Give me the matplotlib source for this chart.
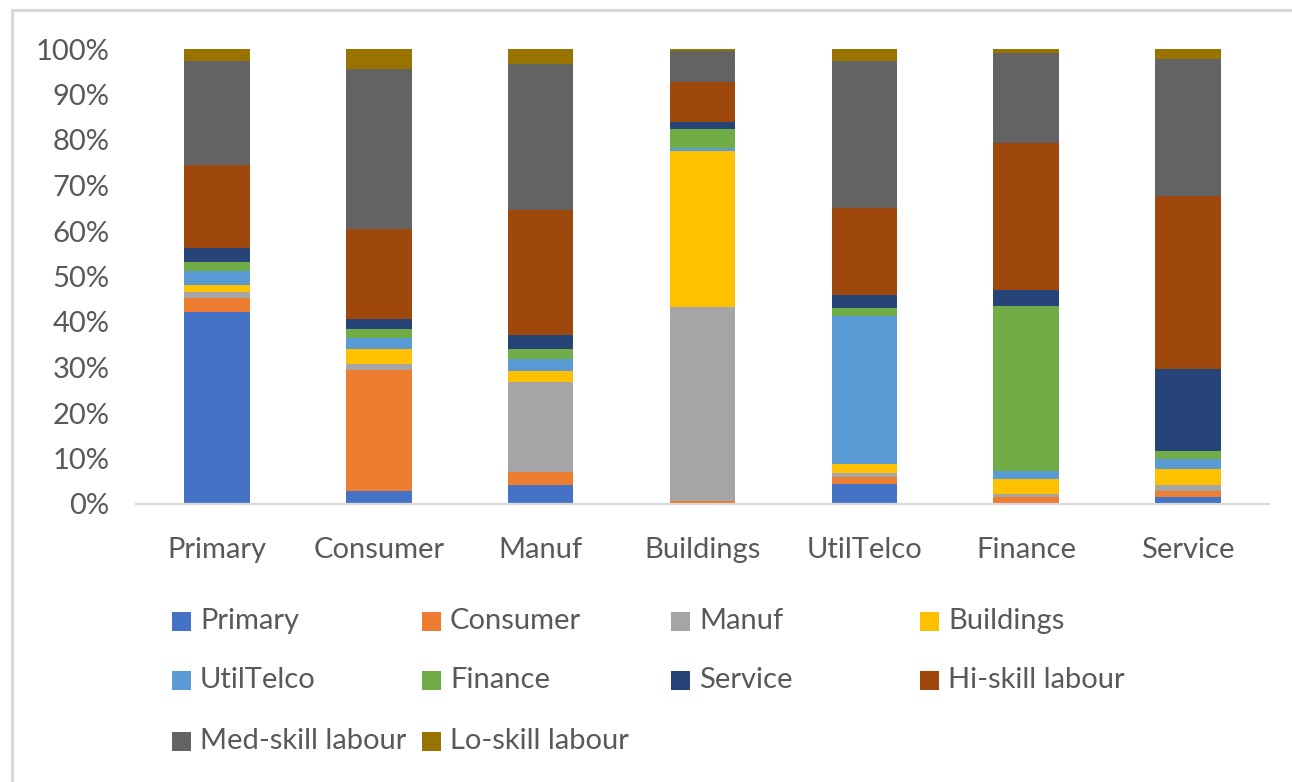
import numpy as np
import matplotlib
matplotlib.use('Agg')  # no display needed
matplotlib.rcParams['font.family'] = ['Lato', 'DejaVu Sans']
import matplotlib.pyplot as plt
from matplotlib.patches import Rectangle

# sectors along the x axis
sectors = ['Primary', 'Consumer', 'Manuf', 'Buildings', 'UtilTelco', 'Finance', 'Service']

# cost components (%) for each sector, bottom to top
primary = [42.2, 2.9, 4.1, 0.1, 4.5, 0.3, 1.5]
consumer = [3.0, 26.6, 3.0, 0.6, 1.5, 1.2, 1.4]
manuf = [1.5, 1.3, 19.8, 42.6, 0.8, 0.7, 1.2]
buildings = [1.5, 3.3, 2.3, 34.3, 1.9, 3.4, 3.7]
utiltelco = [3.0, 2.3, 2.6, 0.7, 32.7, 1.6, 2.0]
finance = [1.9, 2.0, 2.3, 4.1, 1.6, 36.4, 1.9]
service = [3.1, 2.3, 3.1, 1.6, 3.0, 3.5, 17.9]
hi_skill = [18.3, 19.7, 27.4, 8.7, 19.0, 32.3, 38.1]
med_skill = [22.8, 35.1, 32.0, 6.9, 32.3, 19.8, 30.0]
lo_skill = [2.7, 4.5, 3.4, 0.4, 2.7, 0.8, 2.3]

series_names = ['Primary', 'Consumer', 'Manuf', 'Buildings', 'UtilTelco', 'Finance',
                'Service', 'Hi-skill labour', 'Med-skill labour', 'Lo-skill labour']
series_values = [primary, consumer, manuf, buildings, utiltelco, finance,
                 service, hi_skill, med_skill, lo_skill]
colors = ['#4472C4', '#ED7D31', '#A5A5A5', '#FFC000', '#5B9BD5', '#70AD47',
          '#264478', '#9E480E', '#636363', '#997300']

TEXT = '#595959'
LINE = '#D9D9D9'
W, H = 1292, 782
FS = 21


def main():
    fig = plt.figure(figsize=(W / 100, H / 100), dpi=100)
    ax = fig.add_axes([136 / W, 1 - 504 / H, (1269 - 136) / W, (504 - 49) / H])

    data = np.array(series_values, dtype=float)
    shares = data / data.sum(axis=0)  # 100% stacked
    x = np.arange(len(sectors))
    bottom = np.zeros(len(sectors))
    for share, color, name in zip(shares, colors, series_names):
        ax.bar(x, share, 0.405, bottom=bottom, color=color, label=name, linewidth=0)
        bottom += share

    ax.set_xlim(-0.5, len(sectors) - 0.5)
    ax.set_ylim(0, 1)
    ax.set_yticks(np.linspace(0, 1, 11))
    ax.set_yticklabels(['%d%%' % v for v in range(0, 101, 10)])
    ax.set_xticks(x)
    ax.set_xticklabels(sectors)
    ax.tick_params(axis='both', length=0, labelsize=FS, labelcolor=TEXT)
    ax.tick_params(axis='y', pad=19)
    ax.tick_params(axis='x', pad=23.5)
    for side in ['left', 'right', 'top']:
        ax.spines[side].set_visible(False)
    ax.spines['bottom'].set_color(LINE)
    ax.spines['bottom'].set_linewidth(1.6)

    # legend laid out in a fixed 4-column grid
    col_x = [172, 422, 671, 920]
    row_y = [621, 680, 741]
    for i, (name, color) in enumerate(zip(series_names, colors)):
        cx = col_x[i % 4]
        cy = row_y[i // 4]
        fig.patches.append(Rectangle((cx / W, 1 - (cy + 9.5) / H), 19 / W, 19 / H,
                                     transform=fig.transFigure, facecolor=color,
                                     edgecolor='none'))
        fig.text((cx + 28) / W, 1 - cy / H, name, fontsize=FS, color=TEXT,
                 va='center', ha='left')

    # chart frame
    fig.patches.append(Rectangle((11.5 / W, -0.1), 1.2, 1.1 - 9.5 / H,
                                 transform=fig.transFigure, facecolor='none',
                                 edgecolor=LINE, linewidth=2.2))

    fig.savefig('out.png', dpi=100)


if __name__ == '__main__':
    main()
